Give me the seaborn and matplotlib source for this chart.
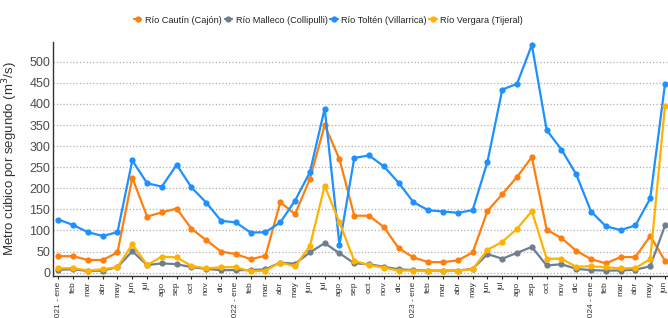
import pandas as pd
import seaborn as sns
import matplotlib.pyplot as plt

sns.set_style('white')
plt.rcParams['font.family'] = ['Liberation Sans', 'DejaVu Sans']

# monthly flow, 2021-ene .. 2024-jun
meses = [
    '2021 - ene', 'feb', 'mar', 'abr', 'may', 'jun', 'jul', 'ago', 'sep', 'oct', 'nov', 'dic',
    '2022 - ene', 'feb', 'mar', 'abr', 'may', 'jun', 'jul', 'ago', 'sep', 'oct', 'nov', 'dic',
    '2023 - ene', 'feb', 'mar', 'abr', 'may', 'jun', 'jul', 'ago', 'sep', 'oct', 'nov', 'dic',
    '2024 - ene', 'feb', 'mar', 'abr', 'may', 'jun',
]
cautin = [39, 39, 30, 30, 48, 225, 133, 143, 152, 104, 77, 50,
          44, 32, 40, 167, 139, 222, 350, 269, 135, 135, 108, 58,
          36, 25, 25, 29, 48, 146, 186, 227, 274, 102, 82, 52,
          32, 22, 37, 37, 87, 28]
malleco = [7, 8, 4, 5, 13, 51, 18, 22, 20, 13, 9, 6,
           6, 6, 8, 24, 21, 48, 70, 46, 22, 20, 14, 8,
           6, 5, 5, 5, 9, 44, 33, 47, 61, 17, 20, 9,
           6, 5, 5, 7, 15, 112]
tolten = [126, 113, 96, 87, 96, 266, 212, 204, 256, 202, 166, 123,
          119, 95, 96, 119, 171, 238, 389, 66, 272, 278, 252, 213,
          167, 148, 145, 142, 148, 263, 434, 448, 540, 338, 292, 233,
          145, 110, 101, 112, 176, 448]
vergara = [10, 11, 5, 8, 13, 67, 18, 38, 36, 16, 10, 13,
           13, 3, 5, 24, 15, 63, 206, 119, 28, 18, 12, 5,
           5, 5, 5, 5, 8, 54, 73, 104, 146, 33, 33, 14,
           15, 13, 10, 11, 32, 396]

series = {
    'Río Cautín (Cajón)': cautin,
    'Río Malleco (Collipulli)': malleco,
    'Río Toltén (Villarrica)': tolten,
    'Río Vergara (Tijeral)': vergara,
}
colores = ['#ff7f0e', '#6e7f90', '#1e90ff', '#ffb300']

rows = []
for nombre, valores in series.items():
    for i, v in enumerate(valores):
        rows.append({'mes': i, 'caudal': v, 'serie': nombre})
df = pd.DataFrame(rows)

fig = plt.figure(figsize=(6.68, 3.18), dpi=100)
ax = fig.add_axes([0.0793, 0.132, 0.9207, 0.736])

sns.lineplot(data=df, x='mes', y='caudal', hue='serie', palette=colores,
             marker='o', markersize=4.5, markeredgewidth=0, linewidth=1.6, ax=ax)

ax.set_xlim(-0.36, 41.2)
ax.set_ylim(-8, 547)
ax.set_yticks(range(0, 501, 50))
ax.set_xticks(range(len(meses)))
ax.set_xticklabels(meses, rotation=90, fontsize=6, color='#333333')
ax.tick_params(axis='y', labelsize=9, colors='#4d4d4d', length=0, pad=2)
ax.tick_params(axis='x', length=2, pad=2, bottom=True)
ax.yaxis.grid(True, linestyle=':', color='#b0b0b0', linewidth=0.9)
ax.set_axisbelow(True)

ax.set_xlabel('')
ax.set_ylabel('Metro cúbico por segundo (m$^3$/s)', fontsize=9.5, color='#333333')
ax.yaxis.set_label_coords(-0.054, 0.5)

for s in ['top', 'right']:
    ax.spines[s].set_visible(False)
for s in ['left', 'bottom']:
    ax.spines[s].set_color('#333333')
    ax.spines[s].set_linewidth(1.0)

handles, labels = ax.get_legend_handles_labels()
ax.get_legend().remove()
leg = fig.legend(handles, labels, loc='center', bbox_to_anchor=(0.492, 0.937), ncol=4,
                 frameon=False, fontsize=6.6, handlelength=0.8, handletextpad=0.4,
                 columnspacing=0.3, borderaxespad=0)
for t in leg.get_texts():
    t.set_color('#222222')

fig.savefig('out.png', dpi=100)
